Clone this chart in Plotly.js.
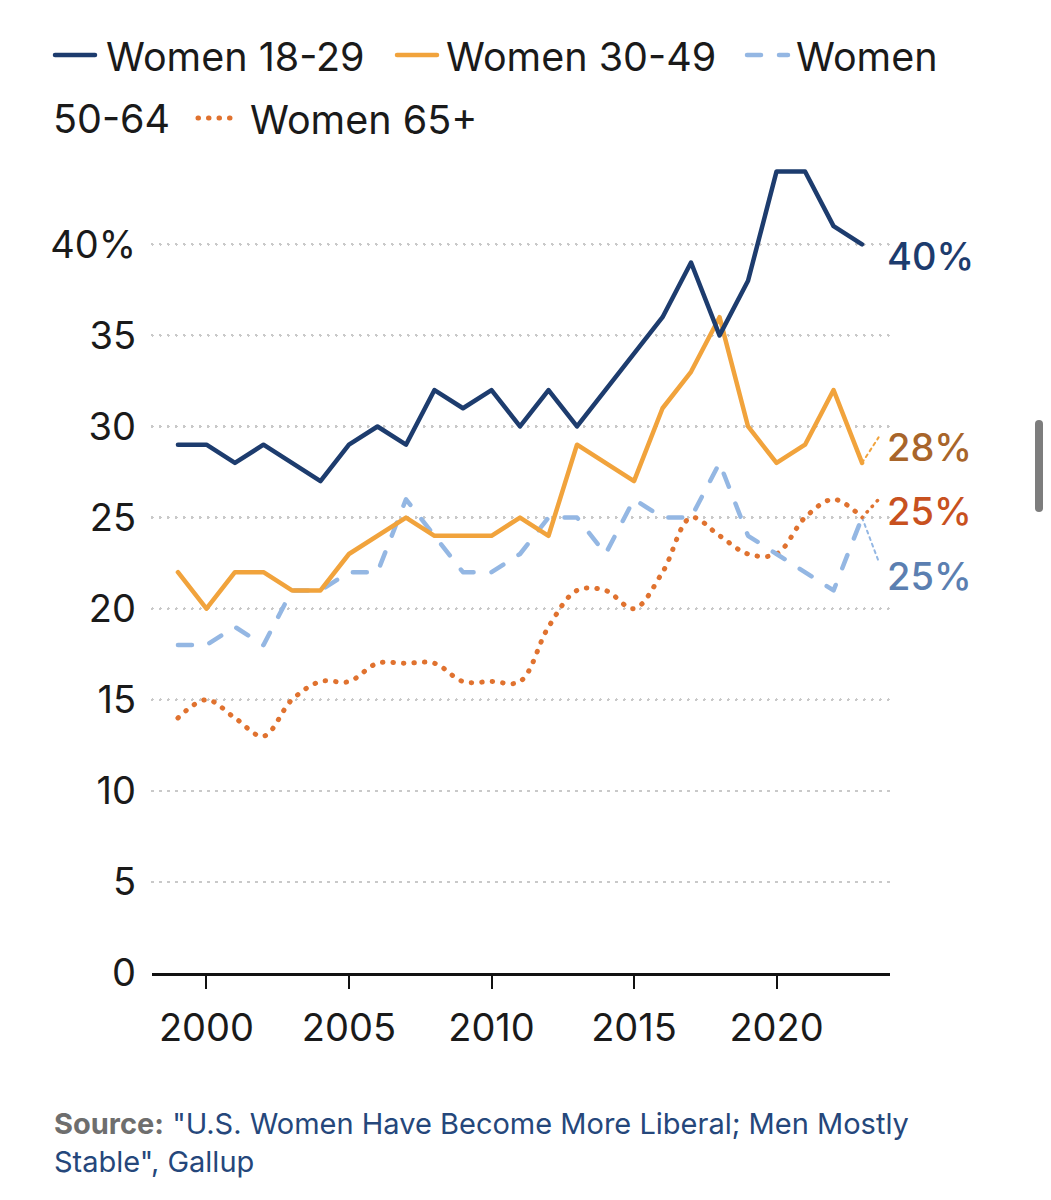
<!DOCTYPE html>
<html>
<head>
<meta charset="utf-8">
<script src="https://cdn.plot.ly/plotly-3.0.1.min.js"></script>
<style>
html,body{margin:0;padding:0;background:#fff;}
#chart{width:1051px;height:1200px;}
#scroll{position:absolute;left:1035px;top:420px;width:8px;height:92px;border-radius:4px;background:#7d7d7d;}
</style>
</head>
<body>
<div id="chart"></div>
<div id="scroll"></div>
<script>
// ---- data ----
const years = [1999,2000,2001,2002,2003,2004,2005,2006,2007,2008,2009,2010,2011,2012,2013,2014,2015,2016,2017,2018,2019,2020,2021,2022,2023];
const women1829 = [29,29,28,29,28,27,29,30,29,32,31,32,30,32,30,32,34,36,39,35,38,44,44,41,40];
const women3049 = [22,20,22,22,21,21,23,24,25,24,24,24,25,24,29,28,27,31,33,36,30,28,29,32,28];
const women5064 = [18,18,19,18,21,21,22,22,26,24,22,22,23,25,25,23,26,25,25,28,24,23,22,21,25];
const women65 = [14,15,14,13,15,16,16,17,17,17,16,16,16,19,21,21,20,22,25,24,23,23,25,26,25];
const seriesNames = ['Women 18-29','Women 30-49','Women 50-64','Women 65+'];
const xTickVals = [2000,2005,2010,2015,2020];
const yTickVals = [0,5,10,15,20,25,30,35,40];
const yTickText = ['0','5','10','15','20','25','30','35','40%'];
const sourceLabel = 'Source:';
const sourceText = '"U.S. Women Have Become More Liberal; Men Mostly<br>Stable", Gallup';

// ---- styles ----
const FONT = 'Inter, "Noto Sans", sans-serif';
const colors = ['#1d3c6e','#f1a33c','#94b7e3','#e0722f'];
const labelColors = ['#1d3c6e','#a8652a','#5b7fb1','#c8511f'];
const dashes = ['solid','solid','14px,18px','0.5px,10px'];
const seriesData = [women1829, women3049, women5064, women65];
// label vertical positions (axis units) and connector end positions
const labelY = [39.35, 28.85, 21.8, 25.35];
const connectorEnd = [null, 29.4, 22.6, 26.0];

// pixel helpers for layout placement
const L = 152, R = 890, T = 135, B = 973;
const px = v => (v - L) / (R - L);
const py = v => (B - v) / (B - T);

const traces = [];
[3,2,1,0].forEach(i => {
  traces.push({
    x: years, y: seriesData[i], name: seriesNames[i], type: 'scatter', mode: 'lines',
    line: {color: colors[i], width: i === 3 ? 5 : 4.5, dash: dashes[i], shape: i === 3 ? 'spline' : 'linear', smoothing: 1},
    showlegend: false, hoverinfo: 'skip'
  });
});

const lastYear = years[years.length - 1];
const shapes = [];
const annotations = [];

// end labels + connectors
seriesData.forEach((arr, i) => {
  const last = arr[arr.length - 1];
  annotations.push({
    x: lastYear + 0.82, y: labelY[i], xref: 'x', yref: 'y', xanchor: 'left', yanchor: 'middle',
    text: last + '%', showarrow: false,
    font: {family: FONT, size: 38, color: labelColors[i], weight: 500}
  });
  if (connectorEnd[i] !== null) {
    shapes.push({
      type: 'line', xref: 'x', yref: 'y', x0: lastYear, y0: last, x1: lastYear + 0.58, y1: connectorEnd[i],
      line: {color: colors[i], width: i === 3 ? 3.5 : 2, dash: i === 3 ? '0.5px,7px' : '3px,4px'}
    });
  }
});

// custom legend (wrapping like the original)
const legendFont = {family: FONT, size: 39.5, color: '#1a1a1a'};
const parts3 = seriesNames[2].split(' ');
const legendItems = [
  {sym: [55, 95], row: 55, textX: 104, text: seriesNames[0], idx: 0},
  {sym: [397, 437], row: 55, textX: 444, text: seriesNames[1], idx: 1},
  {sym: [747, 788], row: 55, textX: 794, text: parts3[0], idx: 2},
  {sym: [198, 240], row: 118, textX: 248, text: seriesNames[3], idx: 3}
];
legendItems.forEach(it => {
  shapes.push({
    type: 'line', xref: 'paper', yref: 'paper',
    x0: px(it.sym[0]), x1: px(it.sym[1]), y0: py(it.row), y1: py(it.row),
    line: {color: colors[it.idx], width: it.idx === 3 ? 5 : 4.5, dash: it.idx === 2 ? '14px,18px' : (it.idx === 3 ? '0.5px,10px' : 'solid')}
  });
  annotations.push({
    x: px(it.textX), y: py(it.row + 2), xref: 'paper', yref: 'paper', xanchor: 'left', yanchor: 'middle',
    text: it.text, showarrow: false, font: legendFont
  });
});
annotations.push({
  x: px(51), y: py(119), xref: 'paper', yref: 'paper', xanchor: 'left', yanchor: 'middle',
  text: parts3.slice(1).join(' '), showarrow: false, font: legendFont
});

// source note
annotations.push({
  x: px(52), y: py(1104), xref: 'paper', yref: 'paper', xanchor: 'left', yanchor: 'top', align: 'left',
  text: '<span style="color:#6e6e6e"><b>' + sourceLabel + '</b></span> ' + sourceText,
  showarrow: false, font: {family: FONT, size: 29, color: '#25477b'}
});

const layout = {
  width: 1051, height: 1200,
  margin: {l: L, r: 1051 - R, t: T, b: 1200 - B, pad: 0},
  paper_bgcolor: '#ffffff', plot_bgcolor: '#ffffff',
  font: {family: FONT, color: '#1a1a1a'},
  showlegend: false,
  xaxis: {
    range: [1998.09, 2023.98], tickvals: xTickVals, ticks: 'outside', ticklen: 13, tickwidth: 2,
    tickcolor: '#111111', showline: true, linecolor: '#111111', linewidth: 2.5,
    showgrid: false, zeroline: false, tickfont: {family: FONT, size: 38, color: '#1a1a1a'},
    ticklabelstandoff: 7, fixedrange: true
  },
  yaxis: {
    range: [0, 46], tickvals: yTickVals, ticktext: yTickText, ticks: '',
    showgrid: true, gridcolor: '#c9c9c9', gridwidth: 2.5, griddash: '0.5px,7.5px',
    zeroline: false, showline: false, tickfont: {family: FONT, size: 38, color: '#1a1a1a'},
    ticklabelstandoff: 15, fixedrange: true
  },
  shapes: shapes,
  annotations: annotations
};

Plotly.newPlot('chart', traces, layout, {displayModeBar: false, staticPlot: true}).then(() => {
  document.querySelectorAll('.scatterlayer path.js-line, .shapelayer path, .gridlayer path').forEach(p => {
    p.style.strokeLinecap = 'round';
    p.style.strokeLinejoin = 'round';
  });
});
</script>
</body>
</html>
